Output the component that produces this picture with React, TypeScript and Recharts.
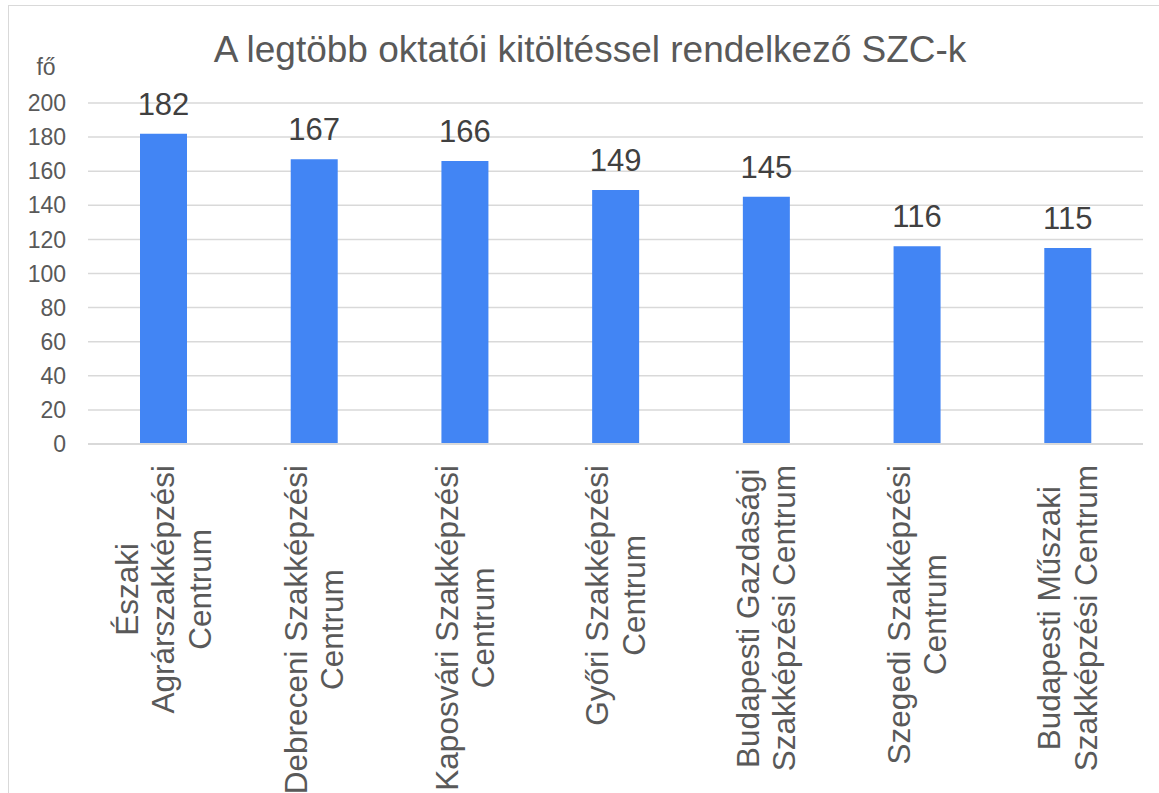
import React from "react";
import { BarChart, Bar, XAxis, YAxis, CartesianGrid, LabelList } from "recharts";

const categories = [
  "Északi\nAgrárszakképzési\nCentrum",
  "Debreceni Szakképzési\nCentrum",
  "Kaposvári Szakképzési\nCentrum",
  "Győri Szakképzési\nCentrum",
  "Budapesti Gazdasági\nSzakképzési Centrum",
  "Szegedi Szakképzési\nCentrum",
  "Budapesti Műszaki\nSzakképzési Centrum",
];
const values = [182, 167, 166, 149, 145, 116, 115];
const yTicks = [0, 20, 40, 60, 80, 100, 120, 140, 160, 180, 200];

const FONT = "'Liberation Sans', Arial, sans-serif";
const BAR_COLOR = "#4285f4";
const GRID = "#d9d9d9";
const LABEL_SIZE = 31.5;
const LINE_GAP = 36.5;

const data = categories.map((name, i) => ({ name, value: values[i] }));

let ctx: CanvasRenderingContext2D | null = null;
function measure(text: string) {
  if (!ctx) ctx = document.createElement("canvas").getContext("2d");
  if (!ctx) return text.length * LABEL_SIZE * 0.5;
  ctx.font = `${LABEL_SIZE}px 'Liberation Sans', Arial, sans-serif`;
  return ctx.measureText(text).width;
}

function CategoryTick(props: any) {
  const { x, y, payload } = props;
  const lines: string[] = String(payload.value).split("\n");
  const maxLen = Math.max(...lines.map(measure));
  const n = lines.length;
  return (
    <g transform={`translate(${x},${y + maxLen / 2}) rotate(-90)`}>
      {lines.map((line, i) => (
        <text
          key={i}
          x={0}
          y={(i - (n - 1) / 2) * LINE_GAP + 11}
          textAnchor="middle"
          fill="#595959"
          fontSize={LABEL_SIZE}
          fontFamily={FONT}
        >
          {line}
        </text>
      ))}
    </g>
  );
}

export default function App() {
  return (
    <div
      style={{
        position: "fixed",
        left: 0,
        top: 0,
        width: 1159,
        height: 793,
        overflow: "hidden",
        background: "#fff",
      }}
    >
      {/* chart frame, runs past the right and bottom edges */}
      <div
        style={{
          position: "absolute",
          left: 8,
          top: 5,
          width: 1200,
          height: 900,
          border: `1.5px solid ${GRID}`,
        }}
      />
      <div style={{ position: "absolute", left: 0, top: 0 }}>
        <BarChart
          width={1159}
          height={793}
          data={data}
          margin={{ top: 103, right: 16, bottom: 0, left: 0 }}
        >
          <CartesianGrid vertical={false} stroke={GRID} strokeWidth={1.5} />
          <XAxis
            dataKey="name"
            height={349}
            interval={0}
            tickSize={0}
            tickMargin={21}
            axisLine={{ stroke: GRID, strokeWidth: 2 }}
            tickLine={false}
            tick={<CategoryTick />}
          />
          <YAxis
            width={88}
            domain={[0, 200]}
            ticks={yTicks}
            axisLine={false}
            tickLine={false}
            tickSize={0}
            tickMargin={22}
            tick={{ fontSize: 23, fill: "#595959", fontFamily: FONT }}
          />
          <Bar dataKey="value" fill={BAR_COLOR} barSize={47} isAnimationActive={false}>
            <LabelList
              dataKey="value"
              position="top"
              offset={19}
              fill="#404040"
              fontSize={31}
              fontFamily={FONT}
            />
          </Bar>
        </BarChart>
      </div>
      <svg
        width={1159}
        height={793}
        style={{ position: "absolute", left: 0, top: 0, pointerEvents: "none" }}
      >
        <text
          x={590}
          y={62}
          textAnchor="middle"
          fill="#595959"
          fontSize={37}
          fontFamily={FONT}
        >
          A legtöbb oktatói kitöltéssel rendelkező SZC-k
        </text>
        <text x={46} y={75} textAnchor="middle" fill="#595959" fontSize={23} fontFamily={FONT}>
          fő
        </text>
      </svg>
    </div>
  );
}
